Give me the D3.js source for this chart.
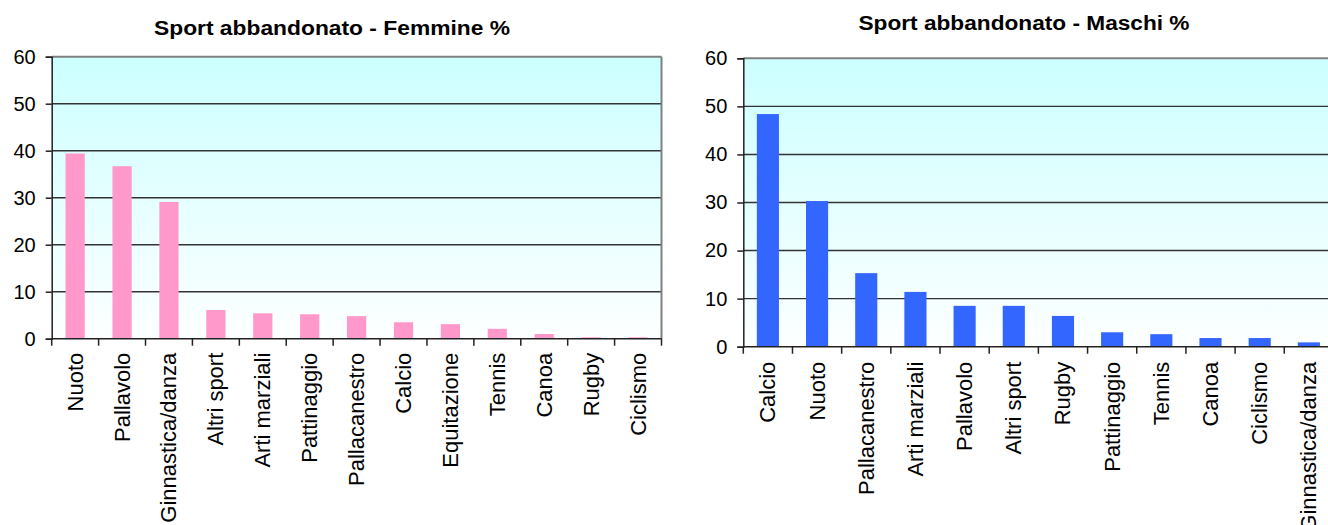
<!DOCTYPE html>
<html><head><meta charset="utf-8">
<script src="https://cdn.jsdelivr.net/npm/d3@7"></script>
<style>body{margin:0;background:#fff;}svg{display:block;font-family:"Liberation Sans",Arial,sans-serif;}</style>
</head><body>
<svg id="c" width="1328" height="525"></svg>
<script>
const femCategories = ["Nuoto","Pallavolo","Ginnastica/danza","Altri sport","Arti marziali","Pattinaggio","Pallacanestro","Calcio","Equitazione","Tennis","Canoa","Rugby","Ciclismo"];
const femValues = [39.4,36.7,29.1,6.1,5.4,5.2,4.8,3.5,3.1,2.1,1.0,0.3,0.3];
const maleCategories = ["Calcio","Nuoto","Pallacanestro","Arti marziali","Pallavolo","Altri sport","Rugby","Pattinaggio","Tennis","Canoa","Ciclismo","Ginnastica/danza"];
const maleValues = [48.4,30.3,15.3,11.4,8.5,8.5,6.4,3.0,2.6,1.8,1.8,0.9];
const yTicks = [0,10,20,30,40,50,60];
const titles = ["Sport abbandonato - Femmine %","Sport abbandonato - Maschi %"];

const svg = d3.select("#c");
const defs = svg.append("defs");
const grad = defs.append("linearGradient").attr("id","bg").attr("x1",0).attr("y1",0).attr("x2",0).attr("y2",1);
grad.append("stop").attr("offset","0%").attr("stop-color","#CCFFFF");
grad.append("stop").attr("offset","100%").attr("stop-color","#FDFFFF");

function chart(cfg){
  const g = svg.append("g");
  const x = d3.scaleBand().domain(cfg.cats).range([cfg.x0, cfg.x1]).paddingInner(cfg.pad).paddingOuter(cfg.pad/2);
  const y = d3.scaleLinear().domain([0,60]).range([cfg.y0, cfg.yTop]);
  g.append("rect").attr("x",cfg.x0).attr("y",y(60)).attr("width",cfg.x1-cfg.x0).attr("height",y(0)-y(60)).attr("fill","url(#bg)");
  g.selectAll("line.grid").data(yTicks.filter(t=>t>0 && t<60)).join("line")
    .attr("x1",cfg.x0).attr("x2",cfg.x1).attr("y1",d=>y(d)).attr("y2",d=>y(d))
    .attr("stroke","#333").attr("stroke-width",1.4);
  g.append("line").attr("x1",cfg.x0).attr("x2",cfg.x1).attr("y1",y(60)).attr("y2",y(60)).attr("stroke","#808080").attr("stroke-width",2);
  g.append("line").attr("x1",cfg.x1).attr("x2",cfg.x1).attr("y1",y(60)).attr("y2",y(0)).attr("stroke","#808080").attr("stroke-width",2);
  g.selectAll("rect.bar").data(cfg.vals).join("rect")
    .attr("x",(d,i)=>x(cfg.cats[i])).attr("width",x.bandwidth())
    .attr("y",d=>y(d)).attr("height",d=>y(0)-y(d)).attr("fill",cfg.color);
  const ya = d3.axisLeft(y).tickValues(yTicks).tickSize(6).tickPadding(10);
  const yg = g.append("g").attr("transform",`translate(${cfg.x0},0)`).call(ya);
  yg.selectAll("text").attr("font-size",20).attr("fill","#000").attr("font-family","Liberation Sans, Arial, sans-serif");
  yg.selectAll("line,path").attr("stroke","#222").attr("stroke-width",1.5);
  g.append("line").attr("x1",cfg.x0).attr("x2",cfg.x1).attr("y1",y(0)).attr("y2",y(0)).attr("stroke","#222").attr("stroke-width",1.5);
  const step = x.step();
  g.selectAll("line.xt").data(d3.range(cfg.cats.length+1)).join("line")
    .attr("x1",i=>cfg.x0+i*step).attr("x2",i=>cfg.x0+i*step)
    .attr("y1",y(0)).attr("y2",y(0)+7).attr("stroke","#222").attr("stroke-width",1.5);
  g.selectAll("text.cat").data(cfg.cats).join("text")
    .attr("transform",d=>`translate(${x(d)+x.bandwidth()/2+7.5},${y(0)+cfg.labGap}) rotate(-90)`)
    .attr("text-anchor","end").attr("font-size",22).attr("fill","#000").text(d=>d);
  g.append("text").attr("x",cfg.tx).attr("y",cfg.ty).attr("text-anchor","middle")
    .attr("font-size",19.5).attr("font-weight","bold").attr("fill","#000")
    .attr("textLength",cfg.tlen).attr("lengthAdjust","spacingAndGlyphs").text(cfg.title);
}

chart({cats:femCategories, vals:femValues, x0:51.7, x1:661.5, y0:338.7, yTop:56.7, pad:0.59, color:"#FF99CC",
  labGap:14, tx:332, ty:35, tlen:356, title:titles[0]});
chart({cats:maleCategories, vals:maleValues, x0:743.3, x1:743.3+12*49.18, y0:346.7, yTop:58.3, pad:0.55, color:"#3366FF",
  labGap:15, tx:1024, ty:30, tlen:331, title:titles[1]});
</script>
</body></html>
